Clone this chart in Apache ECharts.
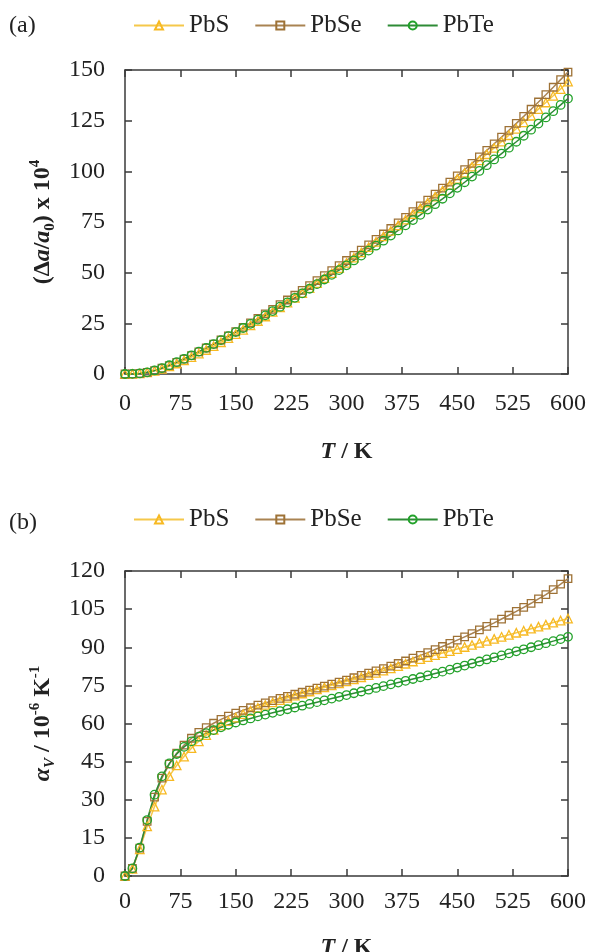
<!DOCTYPE html>
<html><head><meta charset="utf-8">
<script src="https://cdn.jsdelivr.net/npm/echarts@6/dist/echarts.min.js"></script>
<style>html,body{margin:0;padding:0;background:#fff}#c{width:589px;height:952px}</style>
</head><body><div id="c"></div>
<script>
const temperatures = [0,10,20,30,40,50,60,70,80,90,100,110,120,130,140,150,160,170,180,190,200,210,220,230,240,250,260,270,280,290,300,310,320,330,340,350,360,370,380,390,400,410,420,430,440,450,460,470,480,490,500,510,520,530,540,550,560,570,580,590,600];

// (a) lattice expansion (Δa/a0) x 10^4
const latticePbS = [0,0.05,0.27,0.77,1.55,2.57,3.79,5.17,6.68,8.30,10.02,11.83,13.71,15.66,17.66,19.71,21.81,23.96,26.15,28.37,30.63,32.92,35.24,37.59,39.97,42.38,44.81,47.27,49.76,52.27,54.81,57.38,59.97,62.59,65.24,67.92,70.63,73.37,76.14,78.94,81.77,84.63,87.51,90.42,93.36,96.32,99.31,102.33,105.37,108.44,111.54,114.66,117.81,120.99,124.19,127.42,130.68,133.96,137.27,140.61,144.3];
const latticePbSe = [0,0.05,0.28,0.82,1.68,2.83,4.18,5.71,7.36,9.10,10.92,12.82,14.77,16.77,18.83,20.92,23.05,25.22,27.41,29.65,31.90,34.20,36.51,38.86,41.23,43.62,46.05,48.50,50.97,53.48,56.01,58.56,61.15,63.76,66.41,69.08,71.79,74.53,77.30,80.11,82.96,85.84,88.75,91.71,94.71,97.74,100.82,103.94,107.12,110.33,113.59,116.90,120.25,123.66,127.12,130.63,134.20,137.82,141.50,145.25,149.0];
const latticePbTe = [0,0.05,0.29,0.84,1.74,2.93,4.32,5.86,7.50,9.23,11.03,12.88,14.77,16.71,18.67,20.67,22.70,24.75,26.83,28.94,31.07,33.22,35.39,37.59,39.81,42.06,44.33,46.62,48.93,51.27,53.63,56.02,58.43,60.86,63.31,65.79,68.29,70.82,73.37,75.94,78.53,81.15,83.80,86.46,89.16,91.88,94.62,97.40,100.20,103.02,105.88,108.76,111.66,114.60,117.56,120.54,123.56,126.60,129.66,132.76,135.9];

// (b) volumetric expansion coefficient αV / 10^-6 K^-1
const alphaPbS = [0,2.8,10.5,19.5,27.3,34,39.3,43.5,47,50.3,53,55.4,57.5,59.3,60.9,62.3,63.7,65,66.2,67.3,68.3,69.2,70.1,71,71.8,72.6,73.4,74.2,75,75.8,76.6,77.4,78.2,79,79.9,80.8,81.7,82.6,83.5,84.4,85.3,86.1,86.9,87.7,88.5,89.3,90.1,90.9,91.7,92.5,93.3,94.1,94.9,95.7,96.5,97.3,98.1,98.9,99.7,100.5,101.3];
const alphaPbSe = [0,3,11,21.5,31,38.5,44,48.3,51.5,54.2,56.5,58.4,60.1,61.6,62.9,64.1,65.2,66.2,67.2,68.1,69,69.9,70.7,71.5,72.3,73.1,73.9,74.7,75.5,76.3,77.1,78,78.9,79.8,80.7,81.6,82.6,83.6,84.6,85.7,86.8,87.9,89.1,90.3,91.5,92.8,94.1,95.4,96.8,98.2,99.6,101.1,102.6,104.1,105.7,107.3,109,110.7,112.7,114.8,117];
const alphaPbTe = [0,3,11.2,22,32,39.2,44.3,48,50.8,53,54.8,56.2,57.4,58.5,59.5,60.4,61.2,62,62.8,63.5,64.2,64.9,65.6,66.3,67,67.7,68.4,69.1,69.8,70.5,71.2,71.9,72.6,73.3,74,74.7,75.4,76.1,76.8,77.5,78.2,78.9,79.7,80.4,81.2,82,82.8,83.6,84.4,85.2,86,86.8,87.6,88.4,89.2,90,90.8,91.6,92.4,93.2,94.1];

const seriesNames = ['PbS','PbSe','PbTe'];
const xTickValues = [0,75,150,225,300,375,450,525,600];
const yTicksA = [0,25,50,75,100,125,150];
const yTicksB = [0,15,30,45,60,75,90,105,120];

const FF = "'Liberation Serif','Times New Roman',serif";
const AX = '#3a3a3a';
const styles = {
  PbS:  {c:'#F7B922', l:'#F5C84A', s:'triangle'},
  PbSe: {c:'#9E7236', l:'#A98352', s:'rect'},
  PbTe: {c:'#22A22A', l:'#2E8B36', s:'circle'}
};

function valAxis(extra, min, max, interval, showLabel, margin) {
  return Object.assign({
    type:'value', min:min, max:max, interval:interval,
    axisLine:{show:true, onZero:false, lineStyle:{color:AX, width:1.5}},
    axisTick:{show:true, inside:true, length:7, lineStyle:{color:AX, width:1.5}},
    axisLabel:{show:showLabel, fontFamily:FF, fontSize:24, color:'#222', margin:margin},
    splitLine:{show:false}
  }, extra);
}

const richBase = {
  p:{fontFamily:FF, fontSize:24, fontWeight:'bold', color:'#222', lineHeight:30},
  i:{fontFamily:FF, fontSize:24, fontWeight:'bold', fontStyle:'italic', color:'#222', lineHeight:30},
  sub:{fontFamily:FF, fontSize:15, fontWeight:'bold', color:'#222', verticalAlign:'bottom', lineHeight:15},
  subi:{fontFamily:FF, fontSize:15, fontWeight:'bold', fontStyle:'italic', color:'#222', verticalAlign:'bottom', lineHeight:15},
  sup:{fontFamily:FF, fontSize:15, fontWeight:'bold', color:'#222', verticalAlign:'top', lineHeight:15}
};

const xName = '{i|T}{p| / K}';
const yNameA = '{p|(Δ}{i|a}{p|/}{i|a}{sub|0}{p|) x 10}{sup|4}';
const yNameB = '{i|α}{subi|V}{p| / 10}{sup|-6}{p| K}{sup|-1}';

const xAxes = [
  valAxis({gridIndex:0, position:'bottom', name:xName, nameLocation:'middle', nameGap:63, nameTextStyle:{rich:richBase}}, 0, 600, 75, true, 18),
  valAxis({gridIndex:0, position:'top'}, 0, 600, 75, false, 8),
  valAxis({gridIndex:1, position:'bottom', name:xName, nameLocation:'middle', nameGap:57, nameTextStyle:{rich:richBase}}, 0, 600, 75, true, 14),
  valAxis({gridIndex:1, position:'top'}, 0, 600, 75, false, 8)
];
const yAxes = [
  valAxis({gridIndex:0, position:'left', name:yNameA, nameLocation:'middle', nameGap:66, nameRotate:90, nameTextStyle:{rich:richBase}}, 0, 150, 25, true, 20),
  valAxis({gridIndex:0, position:'right'}, 0, 150, 25, false, 8),
  valAxis({gridIndex:1, position:'left', name:yNameB, nameLocation:'middle', nameGap:66, nameRotate:90, nameTextStyle:{rich:richBase}}, 0, 120, 15, true, 20),
  valAxis({gridIndex:1, position:'right'}, 0, 120, 15, false, 8)
];

function mk(name, vals, gi) {
  const st = styles[name];
  return {
    type:'line', name:name, xAxisIndex:gi*2, yAxisIndex:gi*2,
    data: temperatures.map((t,i)=>[t, vals[i]]),
    symbol: st.s, symbolSize: st.s==='rect' ? 7.5 : 8.5, showSymbol:true, showAllSymbol:true,
    lineStyle:{color:st.l, width:1.5},
    itemStyle:{color:'rgba(255,255,255,0)', borderColor:st.c, borderWidth:1.3},
    emphasis:{disabled:true}, clip:false
  };
}

const legendBase = {
  data: seriesNames, left:133, itemWidth:50, itemHeight:10, itemGap:25, padding:0,
  textStyle:{fontFamily:FF, fontSize:25, color:'#222'}
};

const option = {
  animation:false,
  backgroundColor:'#fff',
  title:[
    {text:'(a)', left:9, top:14, padding:0, textStyle:{fontFamily:FF, fontSize:24, fontWeight:'normal', color:'#222'}},
    {text:'(b)', left:9, top:511, padding:0, textStyle:{fontFamily:FF, fontSize:24, fontWeight:'normal', color:'#222'}}
  ],
  legend:[
    Object.assign({top:13}, legendBase),
    Object.assign({top:507}, legendBase)
  ],
  grid:[
    {left:125, right:21, top:70, height:304, containLabel:false, outerBoundsMode:'none'},
    {left:125, right:21, top:571, height:305, containLabel:false, outerBoundsMode:'none'}
  ],
  xAxis:xAxes,
  yAxis:yAxes,
  series:[
    mk('PbS', latticePbS, 0), mk('PbSe', latticePbSe, 0), mk('PbTe', latticePbTe, 0),
    mk('PbS', alphaPbS, 1), mk('PbSe', alphaPbSe, 1), mk('PbTe', alphaPbTe, 1)
  ]
};
const chart = echarts.init(document.getElementById('c'), null, {renderer:'canvas'});
chart.setOption(option);
</script>
</body></html>
